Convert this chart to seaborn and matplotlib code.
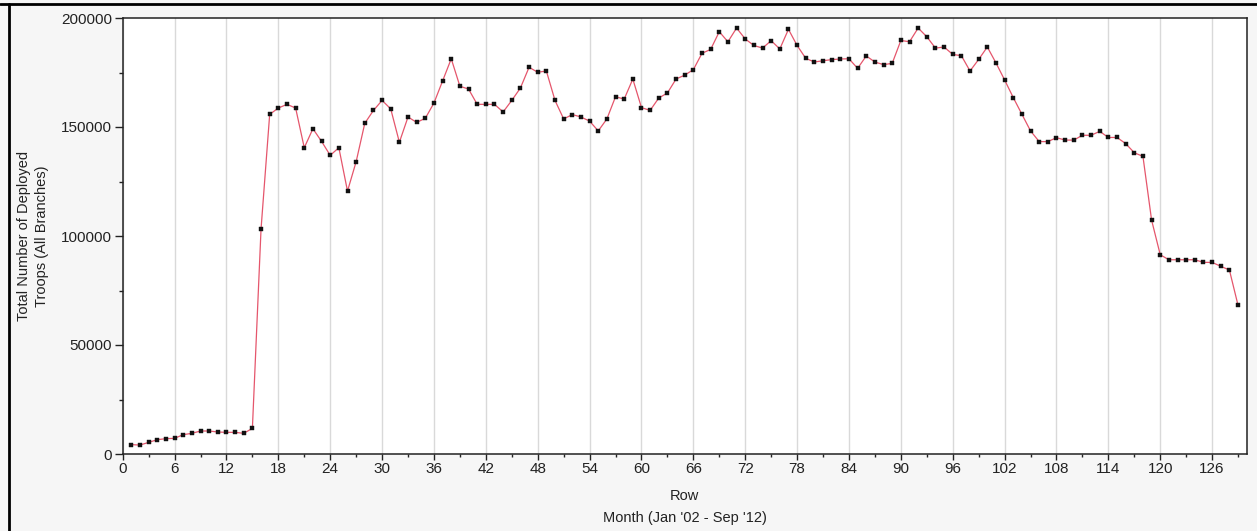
import matplotlib
matplotlib.use("Agg")
import matplotlib.pyplot as plt
from matplotlib.ticker import MultipleLocator
from matplotlib.lines import Line2D
import seaborn as sns
import pandas as pd

months = list(range(1, 130))
troops = [
    4300, 4100, 5350, 6570, 7030, 7190, 8870, 9480, 10550, 10550,
    10090, 9940, 9940, 9480, 11770, 103200, 155800, 158700, 160400, 158700,
    140500, 149200, 143400, 137000, 140500, 120600, 134100, 151700, 157600, 162200,
    158300, 143000, 154600, 152100, 154000, 161000, 171100, 181300, 168700, 167400,
    160400, 160400, 160400, 156900, 162200, 167900, 177400, 175100, 175700, 162200,
    153700, 155700, 154600, 152700, 148200, 153700, 163900, 162800, 172000, 158900,
    157600, 163300, 165600, 172000, 173800, 176300, 183800, 185600, 193700, 189100,
    195400, 190400, 187400, 186200, 189600, 185800, 194800, 187400, 181500, 179800,
    180400, 180900, 181200, 181300, 176900, 182600, 179800, 178600, 179200, 189700,
    189100, 195400, 191400, 186200, 186700, 183300, 182700, 175700, 181000, 186700,
    179400, 171600, 163500, 155800, 148200, 143300, 143300, 145100, 144000, 144000,
    146200, 146200, 148000, 145200, 145200, 142400, 138200, 136500, 107300, 91400,
    89100, 89100, 89100, 89100, 87900, 87900, 86100, 84400, 68200,
]
x_ticks = list(range(0, 127, 6))
y_ticks = [0, 50000, 100000, 150000, 200000]
x_label = "Row\nMonth (Jan '02 - Sep '12)"
y_label = "Total Number of Deployed\nTroops (All Branches)"

df = pd.DataFrame({"month": months, "troops": troops})

sns.set_theme(style="white")
plt.rcParams["font.family"] = ["Liberation Sans", "DejaVu Sans"]

fig = plt.figure(figsize=(12.57, 5.31), dpi=100)
fig.patch.set_facecolor("#f6f6f6")
ax = fig.add_axes([122.7 / 1257, 1 - 454 / 531, (1246.7 - 122.7) / 1257, (454 - 18) / 531])
ax.set_facecolor("white")

sns.lineplot(data=df, x="month", y="troops", ax=ax, color="#e5566c", linewidth=0.9,
             marker="s", markersize=2.3, markerfacecolor="#111111",
             markeredgecolor="#111111", markeredgewidth=0.3)

ax.set_xlim(0, 130)
ax.set_ylim(0, 200000)
ax.set_xticks(x_ticks)
ax.set_yticks(y_ticks)
ax.set_xticklabels([str(t) for t in x_ticks])
ax.set_yticklabels([str(t) for t in y_ticks])
ax.xaxis.set_minor_locator(MultipleLocator(3))
ax.yaxis.set_minor_locator(MultipleLocator(25000))
ax.grid(axis="x", which="major", color="#d9d9d9", linewidth=1.0)
ax.grid(axis="y", visible=False)
ax.set_axisbelow(True)

ax.tick_params(axis="x", which="major", direction="out", length=4, width=1, color="#222222",
               labelsize=11, labelcolor="#222222", pad=2, bottom=True)
ax.tick_params(axis="x", which="minor", direction="out", length=2.5, width=1, color="#222222", bottom=True)
ax.tick_params(axis="y", which="major", direction="out", length=5.5, width=1, color="#222222",
               labelsize=11, labelcolor="#222222", pad=2, left=True)
ax.tick_params(axis="y", which="minor", direction="out", length=3, width=1, color="#222222", left=True)

for s in ax.spines.values():
    s.set_visible(True)
    s.set_color("#222222")
    s.set_linewidth(1.1)

ax.set_xlabel(x_label, fontsize=10.5, color="#222222", linespacing=1.75, labelpad=9)
ax.set_ylabel(y_label, fontsize=10.5, color="#222222", linespacing=1.3, labelpad=9)

# outer frame lines (top and left) as in the screenshot
fig.add_artist(Line2D([0, 1], [1 - 4 / 531, 1 - 4 / 531], transform=fig.transFigure,
                      color="black", linewidth=2.0))
fig.add_artist(Line2D([9 / 1257, 9 / 1257], [0, 1 - 4 / 531], transform=fig.transFigure,
                      color="black", linewidth=2.0))

fig.savefig("out.png", dpi=100, facecolor=fig.get_facecolor())
